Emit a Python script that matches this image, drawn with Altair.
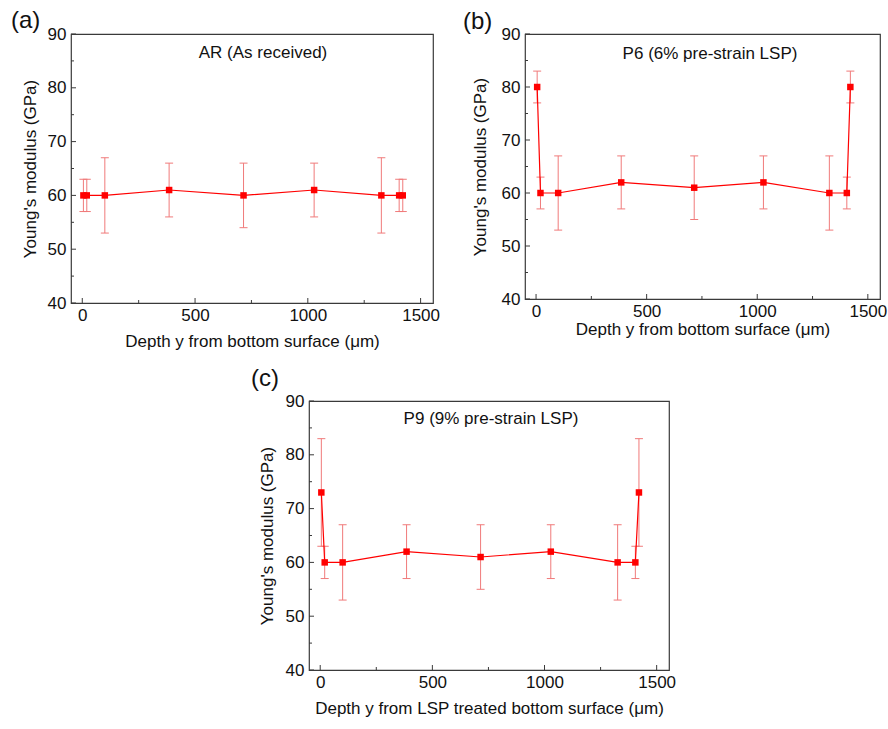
import altair as alt
import pandas as pd

# ---------------- data ----------------
depth = [5, 20, 100, 385, 715, 1028, 1326, 1405, 1421]

ar_mod = [60, 60, 60, 61, 60, 61, 60, 60, 60]
ar_err = [3, 3, 7, 5, 6, 5, 7, 3, 3]

p6_mod = [80, 60, 60, 62, 61, 62, 60, 60, 80]
p6_err = [3, 3, 7, 5, 6, 5, 7, 3, 3]

p9_mod = [73, 60, 60, 62, 61, 62, 60, 60, 73]
p9_err = [10, 3, 7, 5, 6, 5, 7, 3, 10]

x_major = [0, 500, 1000, 1500]
x_minor = [250, 750, 1250]
y_major = [40, 50, 60, 70, 80, 90]
y_minor = [45, 55, 65, 75, 85]

FONT = "Liberation Sans"
RED = "#ff0000"
ERR = "#f07a7a"
FRAME = "#3a3a3a"
X_DOMAIN = [-50, 1555]
Y_DOMAIN = [40, 90]


def panel(tag, label, mod, err, w, h, label_x, label_y, tag_x, tag_y,
          xtitle, xtp, ytp):
    df = pd.DataFrame({
        "depth": depth,
        "mod": mod,
        "lo": [m - e for m, e in zip(mod, err)],
        "hi": [m + e for m, e in zip(mod, err)],
    })
    xs = alt.Scale(domain=X_DOMAIN, nice=False, zero=False)
    ys = alt.Scale(domain=Y_DOMAIN, nice=False, zero=False)
    xax = alt.Axis(values=x_major, ticks=False, tickSize=0, domain=False,
                   grid=False, labelPadding=4, title=xtitle,
                   titlePadding=xtp, format="d", labelFlush=False)
    yax = alt.Axis(values=y_major, ticks=False, tickSize=0, domain=False,
                   grid=False, labelPadding=5, title="Young's modulus (GPa)",
                   titlePadding=ytp, format="d", labelFlush=False)
    base = alt.Chart(df)
    bars = base.mark_rule(color=ERR, strokeWidth=1).encode(
        x=alt.X("depth:Q", scale=xs, axis=xax),
        y=alt.Y("lo:Q", scale=ys, axis=yax),
        y2="hi:Q",
    )
    cap_lo = base.mark_tick(orient="horizontal", size=8, thickness=1,
                            color=ERR, opacity=1).encode(
        x="depth:Q", y="lo:Q")
    cap_hi = base.mark_tick(orient="horizontal", size=8, thickness=1,
                            color=ERR, opacity=1).encode(
        x="depth:Q", y="hi:Q")
    line = base.mark_line(color=RED, strokeWidth=1.2).encode(
        x="depth:Q", y="mod:Q")
    pts = base.mark_square(color=RED, size=42, opacity=1).encode(
        x="depth:Q", y="mod:Q")

    xmaj = alt.Chart(pd.DataFrame({"t": x_major})).mark_rule(
        color=FRAME, strokeWidth=1).encode(
        x="t:Q", y=alt.value(h), y2=alt.value(h - 5))
    xmin = alt.Chart(pd.DataFrame({"t": x_minor})).mark_rule(
        color=FRAME, strokeWidth=1).encode(
        x="t:Q", y=alt.value(h), y2=alt.value(h - 3))
    ymaj = alt.Chart(pd.DataFrame({"v": y_major})).mark_rule(
        color=FRAME, strokeWidth=1).encode(
        y="v:Q", x=alt.value(0), x2=alt.value(5))
    ymin = alt.Chart(pd.DataFrame({"v": y_minor})).mark_rule(
        color=FRAME, strokeWidth=1).encode(
        y="v:Q", x=alt.value(0), x2=alt.value(3))

    lab = alt.Chart(pd.DataFrame({"s": [label]})).mark_text(
        font=FONT, fontSize=17, align="center", baseline="middle",
        color="#111111").encode(
        x=alt.value(label_x), y=alt.value(label_y), text="s:N")
    tg = alt.Chart(pd.DataFrame({"s": [tag]})).mark_text(
        font=FONT, fontSize=24, align="left", baseline="top",
        color="#111111").encode(
        x=alt.value(tag_x), y=alt.value(tag_y), text="s:N")

    return alt.layer(bars, cap_lo, cap_hi, line, pts,
                     xmaj, xmin, ymaj, ymin, lab, tg).properties(
        width=w, height=h)


pa = panel("(a)", "AR (As received)", ar_mod, ar_err, 362, 269,
           192, 19, -60, -25, "Depth y from bottom surface (\u03bcm)", 10, 8)
pb = panel("(b)", "P6 (6% pre-strain LSP)", p6_mod, p6_err, 355, 265,
           185, 20, -62, -24, "Depth y from bottom surface (\u03bcm)", 2, 12)
pc = panel("(c)", "P9 (9% pre-strain LSP)", p9_mod, p9_err, 360, 269,
           182, 18, -58, -34,
           "Depth y from LSP treated bottom surface (\u03bcm)", 10, 9)

spacer = alt.Chart(pd.DataFrame({"v": [0]})).mark_point(opacity=0).encode(
    x=alt.value(0), y=alt.value(0)).properties(
    width=146, height=10, view=alt.ViewBackground(stroke="transparent"))

top_row = alt.hconcat(pa, pb, spacing=92, bounds="flush")
bottom_row = alt.hconcat(spacer, pc, spacing=92, bounds="flush")

chart = alt.vconcat(
    top_row, bottom_row, spacing=16, bounds="full",
).properties(
    padding={"left": 10, "top": 8, "right": 0, "bottom": 0},
    background="white",
).configure_view(
    stroke=FRAME, strokeWidth=1.2
).configure_axis(
    labelFont=FONT, labelFontSize=17, labelColor="#111111",
    titleFont=FONT, titleFontSize=17, titleFontWeight="normal",
    titleColor="#111111",
)

chart.save("out.html", embed_options={"renderer": "svg", "actions": False})
